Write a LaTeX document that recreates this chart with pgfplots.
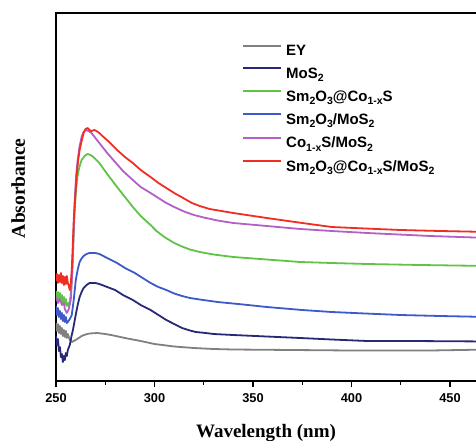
\documentclass[border=0pt]{standalone}
\usepackage{fontspec}
\setmainfont{Liberation Sans}
\newfontfamily\serifb{Liberation Serif}
\usepackage{pgfplots}
\pgfplotsset{compat=1.18}
\newcommand{\sub}[1]{\raisebox{-3.2pt}{\fontsize{10.5}{11}\selectfont #1}}
\definecolor{cEY}{RGB}{128,128,128}
\definecolor{cMo}{RGB}{40,40,120}
\definecolor{cGr}{RGB}{95,195,70}
\definecolor{cBl}{RGB}{60,90,200}
\definecolor{cPu}{RGB}{180,95,200}
\definecolor{cRe}{RGB}{240,45,35}
\begin{document}
\begin{tikzpicture}
\begin{axis}[
  name=ax,
  scale only axis,
  width=433.4pt, height=368pt,
  xmin=250, xmax=470, ymin=0, ymax=368,
  axis line style={line width=1.6pt},
  xtick={250,300,350,400,450},
  minor xtick={275,325,375,425},
  xtick pos=bottom,
  ytick=\empty,
  tick align=outside,
  major tick length=6pt, minor tick length=3.5pt,
  every tick/.style={black, line width=1.4pt},
  /pgf/number format/assume math mode=true,
  xticklabel style={font=\fontsize{12.8}{14}\selectfont\bfseries, yshift=-3pt},
  xlabel={\serifb\bfseries Wavelength (nm)},
  xlabel style={font=\fontsize{19}{22}\selectfont, at={(axis description cs:0,0)}, anchor=base, xshift=210pt, yshift=-56pt, inner sep=0pt},
  ylabel={\serifb\bfseries Absorbance},
  ylabel style={font=\fontsize{19.5}{22}\selectfont, at={(axis description cs:0,0.524)}, anchor=base, yshift=31pt, inner sep=0pt},
  legend style={draw=none, fill=none, at={(axis description cs:0,1)}, anchor=north west, xshift=186pt, yshift=-31.3pt,
    inner sep=0pt, row sep=10.5pt, column sep=4pt, nodes={inner sep=0pt},
    font=\fontsize{15}{17}\selectfont\bfseries},
  legend cell align=left,
  legend image code/.code={\draw[#1, line width=2pt] (0pt,5.5pt) -- (38pt,5.5pt);},
  every axis plot/.append style={line width=1.8pt, line join=round},
  clip=true,
]
\addplot[cEY] coordinates {
(250,58)(250.5,50)(251,57)(251.5,48)(252,55)(252.5,47)(253,53)(253.5,45)(254,51)(254.5,44)(255,50)(255.5,43)(256,47)(256.5,44)(257,41)(258,39)(259,40)(260,41)(261.5,43)(263,45)(265,46.5)(267,47.5)(271,48)(275,47)(278,46)(285,43)(293,40)(300,37)(310,34.5)(320,33)(330,32)(340,31.5)(370,31)(400,30.5)(440,30.5)(470,31.5)};
\addlegendentry{EY}
\addplot[cMo] coordinates {
(250,45)(250.5,36)(251,42)(251.5,30)(252,34)(252.5,24)(253,27)(253.5,19)(254,25)(254.5,21)(255,28)(255.5,25)(256,31)(257,36)(258,46)(258.6,51)(260,66)(261,76)(262,84)(263,89)(264,93)(265.5,96)(267,98)(270,98)(272,97)(276,94)(280,91)(284,86)(289,81)(293,76)(298,71)(302,66)(306,61)(310,57)(314,53)(318,50.5)(321,49)(326,48)(330,47)(340,46)(357,44.5)(374,43)(390,41.5)(408,40)(430,40)(470,39.5)};
\addlegendentry{MoS\sub{2}}
\addplot[cGr] coordinates {
(250,90)(250.5,81)(251,89)(251.5,80)(252,88)(252.5,79)(253,86)(253.5,77)(254,84)(254.5,76)(255,82)(255.5,75)(256,78)(256.5,75)(257,80)(257.5,86)(258,100)(258.5,121)(259,148)(259.5,171)(260.2,192)(261,206)(262,215)(263,221)(264.5,225)(266,227)(267.5,226)(269,224)(272,218)(276,207)(281,194)(285,184)(289,174)(293,165)(298,156)(301,150)(305,144)(310,138)(314,134.5)(318,131.5)(323,129)(330,126.5)(340,124)(357,121.5)(374,119)(390,118)(408,117)(435,116)(470,115)};
\addlegendentry{Sm\sub{2}O\sub{3}@Co\sub{1-x}S}
\addplot[cBl] coordinates {
(250,75)(250.5,66)(251,73)(251.5,64)(252,70)(252.5,62)(253,68)(253.5,60)(254,66)(254.5,59)(255,64)(255.5,58)(256,59)(257,62)(258,66)(259,81)(260,100)(260.5,106)(261.2,113)(262,119)(263,122.5)(264,125)(265.5,127)(267,128)(270,128)(272,127)(276,123)(281,118)(285,113)(290,108)(294,103)(298,98)(302,94)(306,91)(310,87.5)(314,85)(318,83)(323,81.5)(332,79)(345,76.5)(357,74)(375,71)(390,69)(407,67.5)(425,66)(445,65)(470,64)};
\addlegendentry{Sm\sub{2}O\sub{3}/MoS\sub{2}}
\addplot[cPu] coordinates {
(250,84)(251,78)(252,82)(253,76)(254,78)(254.5,72)(255.5,68)(256.5,72)(257.5,81)(258,100)(258.5,121)(259,152)(259.5,181)(260.2,205)(261,221)(262,235)(263,244)(264,249)(265,251)(266.5,250)(268,248)(270,243)(272,238)(276,228)(280,219)(284,210)(289,201)(293,194)(298,188)(302,183)(306,178)(310,174)(315,169.5)(320,166)(325,163.5)(332,160.5)(340,158)(357,155)(374,152)(390,150)(408,148)(440,145)(470,143)};
\addlegendentry{Co\sub{1-x}S/MoS\sub{2}}
\addplot[cRe] coordinates {
(250,100)(250.5,107)(251,98)(251.5,106)(252,99)(252.5,108)(253,98)(253.5,105)(254,96)(254.5,104)(255,97)(255.5,105)(256,98)(256.5,95)(257,91)(257.5,98)(258,111)(258.5,135)(259,161)(259.8,185)(260.5,206)(261.2,220)(262,231)(263,240)(264,248)(265,252)(266,253)(267,251)(268,250)(269.5,251)(270.5,250)(272,248)(273,246)(277,239)(281,231)(285,224)(289,218)(293,211)(298,204)(302,198)(306,193)(310,188)(315,182.5)(319,178)(323,175)(328,172)(334,170)(340,168)(357,163)(375,158)(390,154)(407,152.5)(425,151)(445,150)(470,149)};
\addlegendentry{Sm\sub{2}O\sub{3}@Co\sub{1-x}S/MoS\sub{2}}
\end{axis}
\pgfresetboundingbox
\path[use as bounding box] ([xshift=-56pt,yshift=13pt]ax.north west) rectangle ([xshift=420pt,yshift=-59pt]ax.south west);
\end{tikzpicture}
\end{document}
